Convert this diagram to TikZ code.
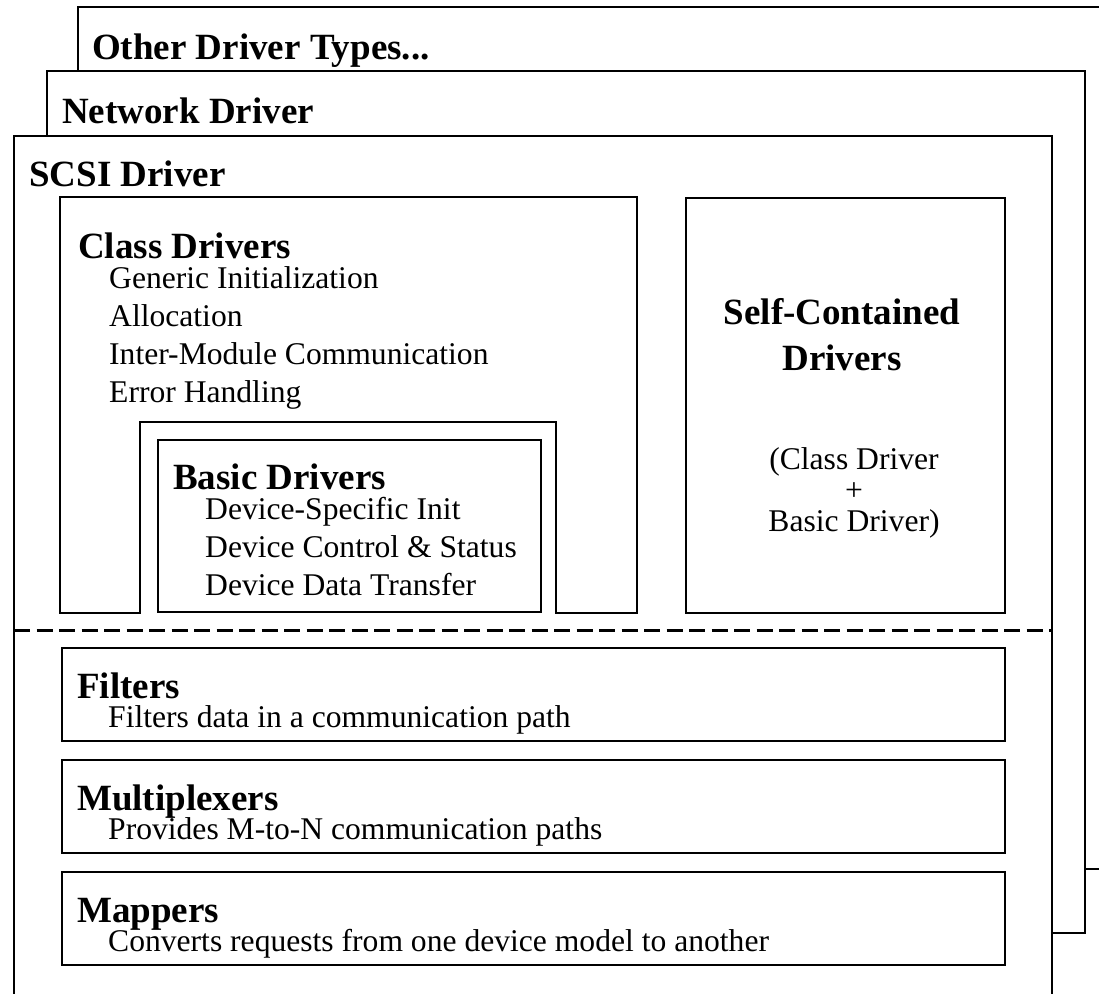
\documentclass[tikz,border=0pt]{standalone}
\usepackage{fontspec}
\setmainfont{Liberation Serif}
\begin{document}
\begin{tikzpicture}[x=1pt,y=-1pt,
  frame/.style={draw=black,fill=white,line width=2pt},
  plainbox/.style={draw=black,line width=2pt},
  sep/.style={draw=black,line width=3pt,dash pattern=on 16pt off 6.5pt},
  hd/.style={anchor=base west,inner sep=0pt,font=\fontsize{37}{40}\selectfont\bfseries},
  tx/.style={anchor=base west,inner sep=0pt,font=\fontsize{31.6}{38}\selectfont},
  hdc/.style={anchor=base,inner sep=0pt,font=\fontsize{37}{40}\selectfont\bfseries},
  txc/.style={anchor=base,inner sep=0pt,font=\fontsize{31.6}{38}\selectfont}]
\useasboundingbox (0,0) rectangle (1099,993);
\clip (0,0) rectangle (1099,993);
% stacked driver frames
\path[frame] (78,7) rectangle (1130,869);
\node[hd] (other) at (92,59) {Other Driver Types...};
\path[frame] (47,71) rectangle (1085,933);
\node[hd] (net) at (62,123) {Network Driver};
\path[frame] (14,136) rectangle (1052,1020);
\node[hd] (scsi) at (29,186) {SCSI Driver};
% class drivers (notched box)
\path[plainbox] (60,197) -- (637,197) -- (637,613) -- (556,613) -- (556,422)
  -- (140,422) -- (140,613) -- (60,613) -- cycle;
\node[hd] (cls) at (78,258) {Class Drivers};
\node[tx] (c1) at (109,288) {Generic Initialization};
\node[tx] (c2) at (109,326) {Allocation};
\node[tx] (c3) at (109,364) {Inter-Module Communication};
\node[tx] (c4) at (109,402) {Error Handling};
% basic drivers
\path[plainbox] (158,440) rectangle (541,612);
\node[hd] (bas) at (173,489) {Basic Drivers};
\node[tx] (b1) at (205,519) {Device-Specific Init};
\node[tx] (b2) at (205,557) {Device Control \& Status};
\node[tx] (b3) at (205,595) {Device Data Transfer};
% self-contained
\path[plainbox] (686,198) rectangle (1005,613);
\node[hdc] (sc1) at (842,324) {Self-Contained};
\node[hdc] (sc2) at (842,370) {Drivers};
\node[txc] (sc3) at (854,469) {(Class Driver};
\node[txc] (sc4) at (854,500) {+};
\node[txc] (sc5) at (854,531) {Basic Driver)};
% separator
\coordinate (dl) at (14,630);
\coordinate (dr) at (1052,630);
\draw[sep] (dl) -- (dr);
% lower boxes
\path[plainbox] (62,648) rectangle (1005,741);
\node[hd] (fil) at (77,698) {Filters};
\node[tx] (fil1) at (108,727) {Filters data in a communication path};
\path[plainbox] (62,760) rectangle (1005,853);
\node[hd] (mux) at (77,810) {Multiplexers};
\node[tx] (mux1) at (108,839) {Provides M-to-N communication paths};
\path[plainbox] (62,872) rectangle (1005,965);
\node[hd] (map) at (77,922) {Mappers};
\node[tx] (map1) at (108,951) {Converts requests from one device model to another};
\end{tikzpicture}
\end{document}
